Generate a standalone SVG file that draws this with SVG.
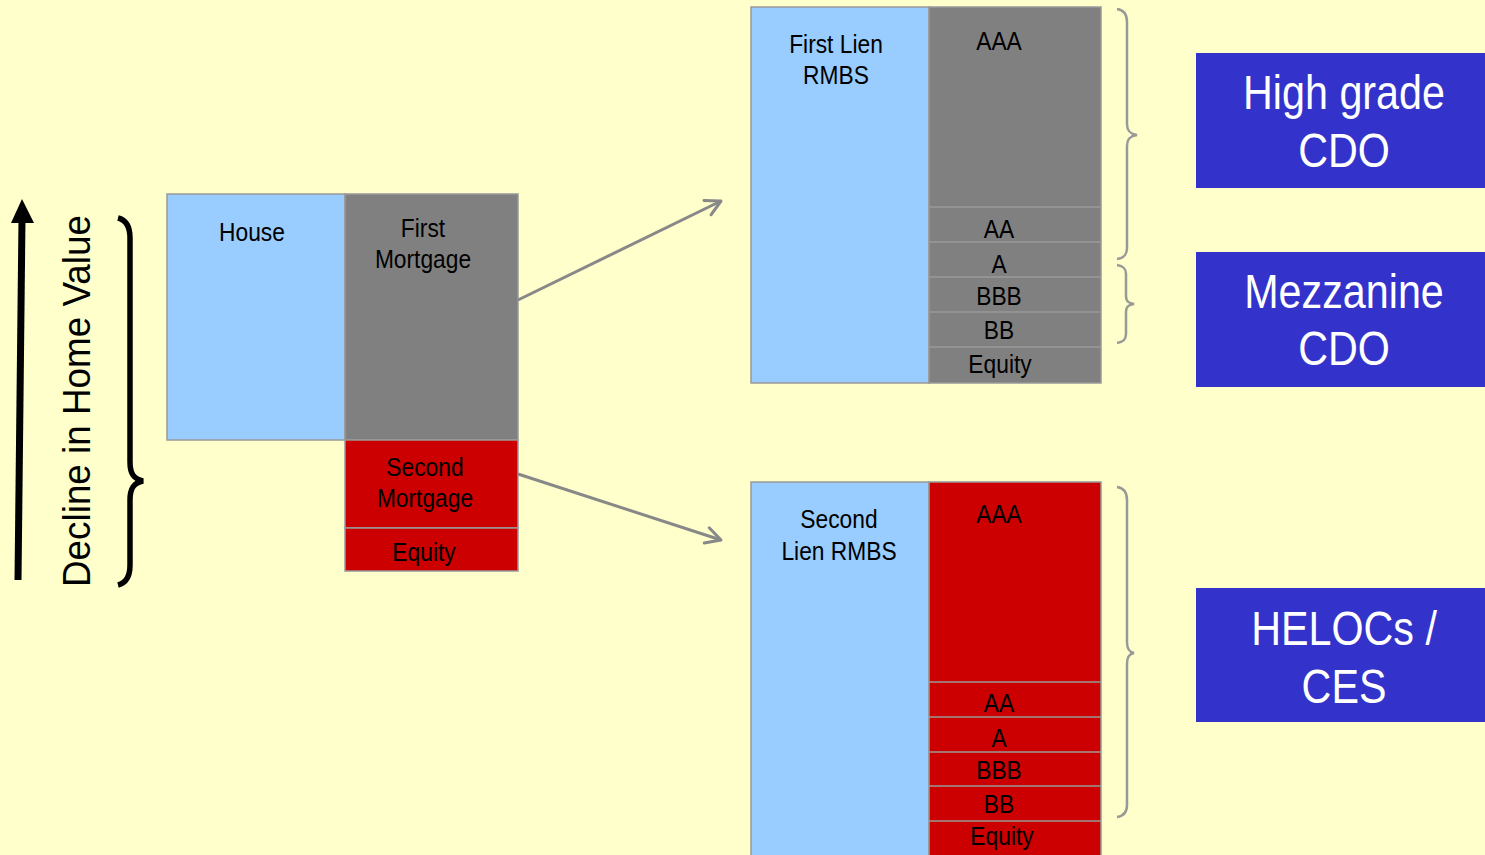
<svg xmlns="http://www.w3.org/2000/svg" width="1485" height="855" viewBox="0 0 1485 855">
<defs>
<style>
.t{font-family:"Liberation Sans",Arial,sans-serif;font-size:26.5px;fill:#000;text-anchor:middle}
.w{font-family:"Liberation Sans",Arial,sans-serif;font-size:48px;fill:#fff;text-anchor:middle}
.blue{fill:#99CCFF;stroke:#999;stroke-width:1.5}
.gray{fill:#808080;stroke:#999;stroke-width:1.5}
.red{fill:#CC0000;stroke:#999;stroke-width:1.5}
.div{stroke:#9a9a9a;stroke-width:1.5}
.cdo{fill:#3333CC}
.brace{fill:none;stroke:#999;stroke-width:2.5}
.conn{stroke:#888;stroke-width:3;fill:none;marker-end:url(#open)}
</style>
<marker id="open" markerWidth="22" markerHeight="22" refX="18" refY="10" orient="auto" markerUnits="userSpaceOnUse" viewBox="0 0 22 20">
<path d="M3,2 L18,10 L3,18" fill="none" stroke="#888" stroke-width="3" stroke-linecap="round" stroke-linejoin="round"/>
</marker>
</defs>
<rect width="1485" height="855" fill="#FFFFCC"/>

<g id="decline">
<line x1="18" y1="580" x2="22" y2="218" stroke="#000" stroke-width="7"/>
<polygon points="22,199 11,223 34,223" fill="#000"/>
<text x="0" y="0" transform="translate(90,401) rotate(-90)" font-family="Liberation Sans, Arial, sans-serif" font-size="38" text-anchor="middle" textLength="372" lengthAdjust="spacingAndGlyphs">Decline in Home Value</text>
<path d="M118,218 C126,220 130,226 130,238 L130,462 C130,474 134,479 143,481 C134,483 130,488 130,500 L130,565 C130,577 126,583 118,585" fill="none" stroke="#000" stroke-width="5.5"/>
</g>

<g id="house">
<rect class="blue" x="167" y="194" width="178" height="246"/>
<text class="t" transform="matrix(0.86,0,0,1,252,241)">House</text>
</g>
<g id="first-mortgage">
<rect class="gray" x="345" y="194" width="173" height="246"/>
<text class="t" transform="matrix(0.86,0,0,1,423,237)">First</text>
<text class="t" transform="matrix(0.86,0,0,1,423,268)">Mortgage</text>
</g>
<g id="second-mortgage">
<rect class="red" x="345" y="440" width="173" height="88"/>
<text class="t" transform="matrix(0.86,0,0,1,425,476)">Second</text>
<text class="t" transform="matrix(0.86,0,0,1,425,507)">Mortgage</text>
</g>
<g id="equity-home">
<rect class="red" x="345" y="528" width="173" height="43"/>
<text class="t" transform="matrix(0.86,0,0,1,424,561)">Equity</text>
</g>

<g id="connectors">
<line class="conn" x1="518" y1="300" x2="721" y2="201"/>
<line class="conn" x1="518" y1="474" x2="721" y2="540"/>
</g>

<g id="first-lien-rmbs">
<rect class="blue" x="751" y="7" width="178" height="376"/>
<text class="t" transform="matrix(0.86,0,0,1,836,53)">First Lien</text>
<text class="t" transform="matrix(0.86,0,0,1,836,84)">RMBS</text>
</g>
<g id="first-lien-tranches">
<rect class="gray" x="929" y="7" width="172" height="376"/>
<line class="div" x1="929" y1="207" x2="1101" y2="207"/>
<line class="div" x1="929" y1="242" x2="1101" y2="242"/>
<line class="div" x1="929" y1="277" x2="1101" y2="277"/>
<line class="div" x1="929" y1="312" x2="1101" y2="312"/>
<line class="div" x1="929" y1="347" x2="1101" y2="347"/>
<text class="t" transform="matrix(0.86,0,0,1,999,50)">AAA</text>
<text class="t" transform="matrix(0.86,0,0,1,999,238)">AA</text>
<text class="t" transform="matrix(0.86,0,0,1,999,273)">A</text>
<text class="t" transform="matrix(0.86,0,0,1,999,305)">BBB</text>
<text class="t" transform="matrix(0.86,0,0,1,999,339)">BB</text>
<text class="t" transform="matrix(0.86,0,0,1,1000,373)">Equity</text>
</g>

<g id="second-lien-rmbs">
<rect class="blue" x="751" y="482" width="178" height="380"/>
<text class="t" transform="matrix(0.86,0,0,1,839,528)">Second</text>
<text class="t" transform="matrix(0.86,0,0,1,839,560)">Lien RMBS</text>
</g>
<g id="second-lien-tranches">
<rect class="red" x="929" y="482" width="172" height="380"/>
<line class="div" x1="929" y1="682" x2="1101" y2="682"/>
<line class="div" x1="929" y1="717" x2="1101" y2="717"/>
<line class="div" x1="929" y1="752" x2="1101" y2="752"/>
<line class="div" x1="929" y1="786" x2="1101" y2="786"/>
<line class="div" x1="929" y1="821" x2="1101" y2="821"/>
<text class="t" transform="matrix(0.86,0,0,1,999,523)">AAA</text>
<text class="t" transform="matrix(0.86,0,0,1,999,712)">AA</text>
<text class="t" transform="matrix(0.86,0,0,1,999,747)">A</text>
<text class="t" transform="matrix(0.86,0,0,1,999,779)">BBB</text>
<text class="t" transform="matrix(0.86,0,0,1,999,813)">BB</text>
<text class="t" transform="matrix(0.86,0,0,1,1002,845)">Equity</text>
</g>

<g id="braces">
<path class="brace" d="M1117,9 C1124,10 1127,14 1127,22 L1127,124 C1127,131 1130,134 1137,135 C1130,136 1127,139 1127,146 L1127,248 C1127,255 1124,258 1117,259"/>
<path class="brace" d="M1117,265 C1123,266 1126,268 1126,274 L1126,296 C1126,302 1129,303 1134,304 C1129,305 1126,306 1126,312 L1126,334 C1126,340 1123,342 1117,343"/>
<path class="brace" d="M1117,487 C1124,488 1127,492 1127,500 L1127,642 C1127,649 1129,652 1134,653 C1129,654 1127,657 1127,664 L1127,805 C1127,812 1124,816 1117,817"/>
</g>

<g id="high-grade-cdo">
<rect class="cdo" x="1196" y="53" width="289" height="135"/>
<text class="w" transform="matrix(0.86,0,0,1,1344,109)">High grade</text>
<text class="w" transform="matrix(0.86,0,0,1,1344,167)">CDO</text>
</g>
<g id="mezzanine-cdo">
<rect class="cdo" x="1196" y="252" width="289" height="135"/>
<text class="w" transform="matrix(0.86,0,0,1,1344,308)">Mezzanine</text>
<text class="w" transform="matrix(0.86,0,0,1,1344,365)">CDO</text>
</g>
<g id="helocs-ces">
<rect class="cdo" x="1196" y="588" width="289" height="134"/>
<text class="w" transform="matrix(0.86,0,0,1,1344,645)">HELOCs /</text>
<text class="w" transform="matrix(0.86,0,0,1,1344,703)">CES</text>
</g>
</svg>
